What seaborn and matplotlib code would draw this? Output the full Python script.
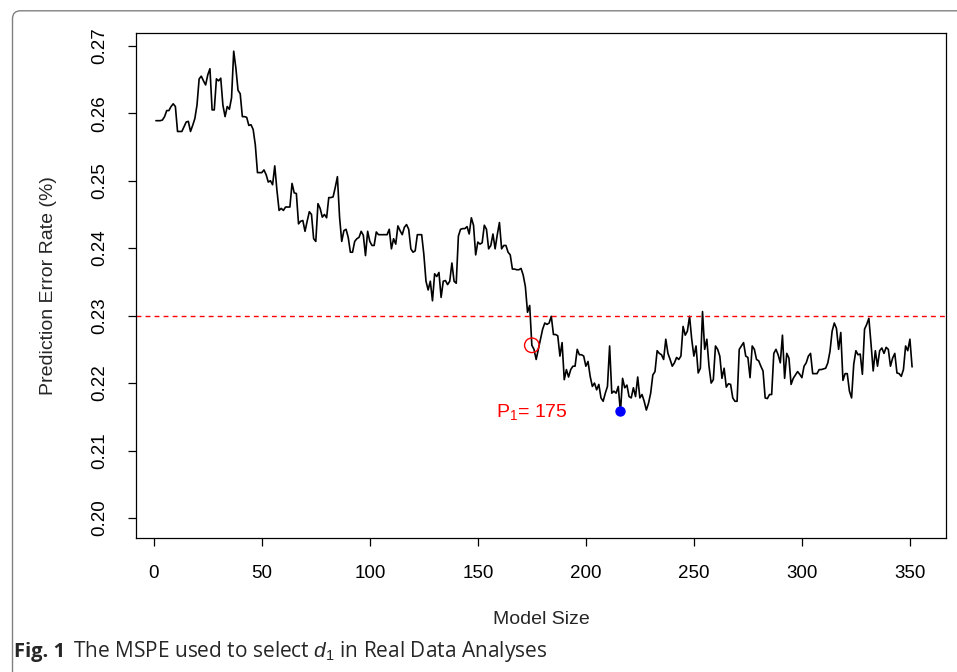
import matplotlib
matplotlib.use('Agg')
import matplotlib.pyplot as plt
from matplotlib.patches import FancyBboxPatch
from matplotlib.transforms import IdentityTransform
import numpy as np
import pandas as pd
import seaborn as sns

# MSPE curve, one value per model size (1..351)
error_rate = [
    0.2589, 0.2589, 0.2589, 0.2590, 0.2595, 0.2604, 0.2604, 0.2610, 0.2614, 0.2610,
    0.2573, 0.2573, 0.2573, 0.2580, 0.2587, 0.2588, 0.2573, 0.2582, 0.2592, 0.2612,
    0.2651, 0.2655, 0.2648, 0.2642, 0.2657, 0.2666, 0.2605, 0.2605, 0.2651, 0.2648,
    0.2652, 0.2612, 0.2595, 0.2610, 0.2606, 0.2623, 0.2692, 0.2667, 0.2634, 0.2629,
    0.2595, 0.2595, 0.2594, 0.2582, 0.2583, 0.2576, 0.2553, 0.2512, 0.2512, 0.2512,
    0.2516, 0.2509, 0.2498, 0.2500, 0.2494, 0.2522, 0.2486, 0.2456, 0.2459, 0.2456,
    0.2461, 0.2461, 0.2461, 0.2496, 0.2482, 0.2481, 0.2436, 0.2440, 0.2441, 0.2425,
    0.2440, 0.2454, 0.2450, 0.2414, 0.2410, 0.2466, 0.2459, 0.2446, 0.2450, 0.2445,
    0.2475, 0.2475, 0.2476, 0.2490, 0.2506, 0.2446, 0.2410, 0.2426, 0.2428, 0.2416,
    0.2394, 0.2394, 0.2410, 0.2414, 0.2416, 0.2425, 0.2419, 0.2389, 0.2425, 0.2410,
    0.2404, 0.2404, 0.2424, 0.2420, 0.2420, 0.2420, 0.2420, 0.2420, 0.2428, 0.2399,
    0.2414, 0.2406, 0.2433, 0.2426, 0.2420, 0.2431, 0.2435, 0.2428, 0.2399, 0.2394,
    0.2396, 0.2420, 0.2420, 0.2420, 0.2391, 0.2351, 0.2338, 0.2351, 0.2322, 0.2362,
    0.2358, 0.2364, 0.2327, 0.2351, 0.2352, 0.2346, 0.2351, 0.2378, 0.2351, 0.2348,
    0.2418, 0.2428, 0.2429, 0.2429, 0.2432, 0.2421, 0.2445, 0.2434, 0.2390, 0.2409,
    0.2406, 0.2408, 0.2434, 0.2428, 0.2399, 0.2404, 0.2421, 0.2399, 0.2420, 0.2438,
    0.2399, 0.2404, 0.2404, 0.2394, 0.2390, 0.2369, 0.2369, 0.2368, 0.2368, 0.2370,
    0.2360, 0.2343, 0.2305, 0.2315, 0.2256, 0.2250, 0.2235, 0.2250, 0.2265, 0.2280,
    0.2289, 0.2287, 0.2289, 0.2299, 0.2272, 0.2272, 0.2270, 0.2240, 0.2260, 0.2205,
    0.2220, 0.2209, 0.2220, 0.2225, 0.2225, 0.2250, 0.2242, 0.2242, 0.2240, 0.2225,
    0.2232, 0.2210, 0.2195, 0.2200, 0.2190, 0.2198, 0.2178, 0.2173, 0.2185, 0.2195,
    0.2255, 0.2185, 0.2188, 0.2185, 0.2195, 0.2157, 0.2207, 0.2193, 0.2197, 0.2180,
    0.2178, 0.2193, 0.2180, 0.2209, 0.2178, 0.2183, 0.2173, 0.2160, 0.2170, 0.2185,
    0.2212, 0.2217, 0.2248, 0.2244, 0.2242, 0.2235, 0.2265, 0.2244, 0.2235, 0.2225,
    0.2230, 0.2238, 0.2235, 0.2240, 0.2284, 0.2271, 0.2277, 0.2299, 0.2265, 0.2240,
    0.2255, 0.2215, 0.2222, 0.2306, 0.2250, 0.2265, 0.2225, 0.2200, 0.2205, 0.2255,
    0.2250, 0.2240, 0.2207, 0.2222, 0.2194, 0.2199, 0.2198, 0.2178, 0.2173, 0.2173,
    0.2250, 0.2255, 0.2260, 0.2240, 0.2238, 0.2208, 0.2255, 0.2250, 0.2235, 0.2233,
    0.2225, 0.2218, 0.2178, 0.2177, 0.2183, 0.2183, 0.2244, 0.2250, 0.2242, 0.2230,
    0.2271, 0.2207, 0.2244, 0.2237, 0.2198, 0.2207, 0.2212, 0.2217, 0.2213, 0.2208,
    0.2225, 0.2230, 0.2240, 0.2244, 0.2214, 0.2214, 0.2214, 0.2220, 0.2220, 0.2221,
    0.2222, 0.2230, 0.2247, 0.2277, 0.2289, 0.2281, 0.2250, 0.2275, 0.2204, 0.2214,
    0.2214, 0.2188, 0.2178, 0.2228, 0.2248, 0.2242, 0.2243, 0.2213, 0.2280, 0.2287,
    0.2296, 0.2258, 0.2218, 0.2248, 0.2225, 0.2248, 0.2252, 0.2244, 0.2253, 0.2250,
    0.2225, 0.2237, 0.2244, 0.2215, 0.2214, 0.2210, 0.2220, 0.2255, 0.2248, 0.2265,
    0.2224,
]
model_size = list(range(1, len(error_rate) + 1))

threshold = 0.23
p1_size = 175
p1_error = 0.2256
best_size = 216
best_error = 0.2158
label_pos = (175, 0.2157)

x_ticks = [0, 50, 100, 150, 200, 250, 300, 350]
y_ticks = [0.20, 0.21, 0.22, 0.23, 0.24, 0.25, 0.26, 0.27]

df = pd.DataFrame({'size': model_size, 'err': error_rate})

sns.set_style('ticks')
plt.rcParams['font.family'] = ['Liberation Sans', 'DejaVu Sans']
plt.rcParams['mathtext.fontset'] = 'custom'
plt.rcParams['mathtext.rm'] = 'Liberation Sans'
plt.rcParams['mathtext.it'] = 'Liberation Sans:italic'

fig = plt.figure(figsize=(9.57, 6.72), dpi=100)
ax = fig.add_axes([0.1424, 0.2001, 0.9885 - 0.1424, 0.9509 - 0.2001])

sns.lineplot(data=df, x='size', y='err', color='black', linewidth=1.2, ax=ax)
ax.axhline(threshold, color='red', linestyle=(0, (3.5, 3)), linewidth=1.0)
ax.scatter([p1_size], [p1_error], s=110, facecolors='none', edgecolors='red', linewidths=1.0, zorder=3)
ax.scatter([best_size], [best_error], s=42, color='blue', zorder=3)
ax.text(label_pos[0], label_pos[1], r'P$_1$= 175', color='red', fontsize=14,
        ha='center', va='center')

ax.set_xlim(-8.1, 366.7)
ax.set_ylim(0.1971, 0.2719)
ax.set_xticks(x_ticks)
ax.set_yticks(y_ticks)
ax.set_xticklabels([str(t) for t in x_ticks])
ax.set_yticklabels(['%.2f' % t for t in y_ticks], rotation=90, va='center')
ax.tick_params(direction='out', length=6, width=0.9, labelsize=13.5, pad=14, colors='black')
for s in ax.spines.values():
    s.set_linewidth(0.9)
    s.set_color('black')
    s.set_visible(True)
ax.set_xlabel('Model Size', fontsize=14, labelpad=21)
ax.set_ylabel('Prediction Error Rate (%)', fontsize=14, labelpad=25)

# journal frame and caption
frame = FancyBboxPatch((12.5, -60), 1100, 672 - 10.8 + 60,
                       boxstyle='round,pad=0,rounding_size=8',
                       transform=IdentityTransform(), fill=False,
                       edgecolor='#808080', linewidth=1.0)
fig.patches.append(frame)
cap_font = ['Open Sans', 'DejaVu Sans']
t1 = fig.text(14 / 957, 1 - 652 / 672, 'Fig. 1', fontsize=14.5, fontweight='bold',
              family=cap_font, va='center', ha='left')
fig.canvas.draw()
bb = t1.get_window_extent()
fig.text((bb.x1 + 8) / 957, 1 - 652 / 672, r'The MSPE used to select $d_1$ in Real Data Analyses',
         fontsize=15, family=cap_font, va='center', ha='left')

fig.savefig('out.png', dpi=100)
